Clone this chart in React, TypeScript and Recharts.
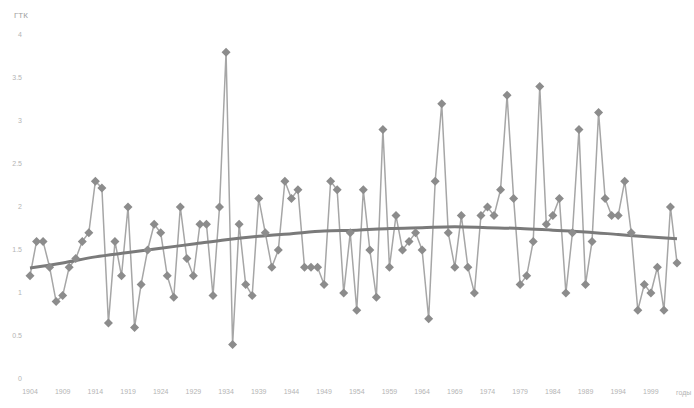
import { LineChart, Line, XAxis, YAxis } from "recharts";

const years = [
  1904, 1905, 1906, 1907, 1908, 1909, 1910, 1911, 1912, 1913,
  1914, 1915, 1916, 1917, 1918, 1919, 1920, 1921, 1922, 1923,
  1924, 1925, 1926, 1927, 1928, 1929, 1930, 1931, 1932, 1933,
  1934, 1935, 1936, 1937, 1938, 1939, 1940, 1941, 1942, 1943,
  1944, 1945, 1946, 1947, 1948, 1949, 1950, 1951, 1952, 1953,
  1954, 1955, 1956, 1957, 1958, 1959, 1960, 1961, 1962, 1963,
  1964, 1965, 1966, 1967, 1968, 1969, 1970, 1971, 1972, 1973,
  1974, 1975, 1976, 1977, 1978, 1979, 1980, 1981, 1982, 1983,
  1984, 1985, 1986, 1987, 1988, 1989, 1990, 1991, 1992, 1993,
  1994, 1995, 1996, 1997, 1998, 1999, 2000, 2001, 2002, 2003,
];

// ГТК по годам
const gtk = [
  1.2, 1.6, 1.6, 1.3, 0.9, 0.97, 1.3, 1.4, 1.6, 1.7,
  2.3, 2.22, 0.65, 1.6, 1.2, 2.0, 0.6, 1.1, 1.5, 1.8,
  1.7, 1.2, 0.95, 2.0, 1.4, 1.2, 1.8, 1.8, 0.97, 2.0,
  3.8, 0.4, 1.8, 1.1, 0.97, 2.1, 1.7, 1.3, 1.5, 2.3,
  2.1, 2.2, 1.3, 1.3, 1.3, 1.1, 2.3, 2.2, 1.0, 1.7,
  0.8, 2.2, 1.5, 0.95, 2.9, 1.3, 1.9, 1.5, 1.6, 1.7,
  1.5, 0.7, 2.3, 3.2, 1.7, 1.3, 1.9, 1.3, 1.0, 1.9,
  2.0, 1.9, 2.2, 3.3, 2.1, 1.1, 1.2, 1.6, 3.4, 1.8,
  1.9, 2.1, 1.0, 1.7, 2.9, 1.1, 1.6, 3.1, 2.1, 1.9,
  1.9, 2.3, 1.7, 0.8, 1.1, 1.0, 1.3, 0.8, 2.0, 1.35,
];

const trendYears = [1904, 1909, 1914, 1919, 1924, 1929, 1934, 1939, 1944, 1949, 1954, 1959, 1964, 1969, 1974, 1979, 1984, 1989, 1994, 1999, 2003];
const trendValues = [1.29, 1.35, 1.42, 1.47, 1.52, 1.57, 1.62, 1.66, 1.69, 1.72, 1.73, 1.75, 1.76, 1.77, 1.76, 1.75, 1.73, 1.71, 1.68, 1.65, 1.63];

const xTicks = [1904, 1909, 1914, 1919, 1924, 1929, 1934, 1939, 1944, 1949, 1954, 1959, 1964, 1969, 1974, 1979, 1984, 1989, 1994, 1999];
const yTicks = [0, 0.5, 1, 1.5, 2, 2.5, 3, 3.5, 4];

const data = years.map((year, i) => {
  const t = trendYears.indexOf(year);
  return { year, gtk: gtk[i], trend: t >= 0 ? trendValues[t] : null };
});

const Diamond = (props: any) => {
  const { cx, cy, index } = props;
  if (cx == null || cy == null) return null;
  return (
    <path
      key={index}
      d={`M${cx},${cy - 4.5} L${cx + 4.5},${cy} L${cx},${cy + 4.5} L${cx - 4.5},${cy} Z`}
      fill="#8c8c8c"
      stroke="none"
    />
  );
};

const tickStyle = { fontSize: 7, fill: "#b4b4b4", fontFamily: "Liberation Sans, Arial, sans-serif" };

export default function App() {
  return (
    <div style={{ position: "absolute", left: 0, top: 0, width: 694, height: 408, background: "#fff" }}>
      <LineChart width={694} height={408} data={data} margin={{ top: 35, right: 17, bottom: 9, left: 0 }}>
        <XAxis
          dataKey="year"
          type="number"
          domain={[1904, 2003]}
          ticks={xTicks}
          interval={0}
          axisLine={false}
          tickLine={false}
          tick={tickStyle}
          tickMargin={4}
          height={20}
        />
        <YAxis
          domain={[0, 4]}
          ticks={yTicks}
          axisLine={false}
          tickLine={false}
          tick={tickStyle}
          width={30}
          tickMargin={2}
        />
        <Line
          dataKey="gtk"
          stroke="#a6a6a6"
          strokeWidth={1.5}
          dot={<Diamond />}
          activeDot={false}
          isAnimationActive={false}
        />
        <Line
          dataKey="trend"
          type="monotone"
          connectNulls
          stroke="#7a7a7a"
          strokeWidth={3}
          dot={false}
          activeDot={false}
          isAnimationActive={false}
        />
      </LineChart>
      <div style={{ position: "absolute", left: 14, top: 11, fontSize: 8, color: "#a0a0a0", fontFamily: "Liberation Sans, Arial, sans-serif" }}>
        ГТК
      </div>
      <div style={{ position: "absolute", left: 676, top: 389, fontSize: 7, color: "#b4b4b4", fontFamily: "Liberation Sans, Arial, sans-serif" }}>
        годы
      </div>
    </div>
  );
}
